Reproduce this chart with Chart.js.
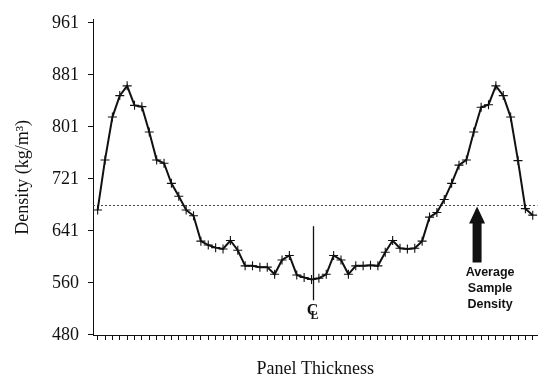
<!DOCTYPE html>
<html>
<head>
<meta charset="utf-8">
<script src="https://cdn.jsdelivr.net/npm/chart.js@4.4.1/dist/chart.umd.min.js"></script>
<style>
  html, body { margin: 0; padding: 0; background: #fff; }
  #wrap { width: 543px; height: 380px; }
</style>
</head>
<body>
<div id="wrap"><canvas id="profile" width="543" height="380"></canvas></div>
<script>
// vertical density profile, one reading per layer from face to face
const layers = [
  1, 2, 3, 4, 5, 6, 7, 8, 9, 10, 11, 12, 13, 14, 15, 16, 17, 18, 19, 20,
  21, 22, 23, 24, 25, 26, 27, 28, 29, 30, 31, 32, 33, 34, 35, 36, 37, 38, 39, 40,
  41, 42, 43, 44, 45, 46, 47, 48, 49, 50, 51, 52, 53, 54, 55, 56, 57, 58, 59, 60
];
const density = [
  673, 750, 816, 849, 864, 834, 832, 793, 750, 745,
  714, 694, 673, 664, 625, 619, 615, 613, 626, 611,
  587, 587, 585, 585, 574, 596, 603, 573, 569, 566,
  568, 574, 603, 596, 574, 587, 587, 588, 587, 608,
  626, 614, 613, 614, 625, 662, 669, 689, 714, 742,
  750, 793, 831, 835, 864, 849, 816, 749, 675, 665
];
// 30..60 lb/ft3 expressed in kg/m3
const yTickValues = [480.6, 560.6, 640.7, 720.8, 800.9, 881.0, 961.1];
const yTickLabels = ['480', '560', '641', '721', '801', '881', '961'];

const averageDensity = 680;
const centreLayer = 30.25;
const arrowLayer = 52.45;
const averageLabel = ['Average', 'Sample', 'Density'];

Chart.defaults.font.family = '"Liberation Serif", "Times New Roman", serif';
Chart.defaults.font.size = 18;
Chart.defaults.color = '#111';

// dotted average line goes under the profile
const averageLine = {
  id: 'averageLine',
  beforeDatasetsDraw(chart) {
    const { ctx, chartArea: a, scales: { y } } = chart;
    const ya = Math.round(y.getPixelForValue(averageDensity)) + 0.5;
    ctx.save();
    ctx.strokeStyle = '#444';
    ctx.lineWidth = 1;
    ctx.setLineDash([2, 2]);
    ctx.beginPath();
    ctx.moveTo(a.left, ya);
    ctx.lineTo(a.right, ya);
    ctx.stroke();
    ctx.restore();
  }
};

// centre line mark and the arrow with its caption
const notes = {
  id: 'notes',
  afterDatasetsDraw(chart) {
    const { ctx, scales: { x, y } } = chart;
    ctx.save();

    const xc = Math.round(x.getPixelForValue(centreLayer)) + 0.5;
    ctx.strokeStyle = '#111';
    ctx.lineWidth = 1.3;
    ctx.beginPath();
    ctx.moveTo(xc, y.getPixelForValue(648));
    ctx.lineTo(xc, y.getPixelForValue(534));
    ctx.stroke();
    ctx.fillStyle = '#111';
    ctx.textAlign = 'center';
    ctx.textBaseline = 'middle';
    ctx.font = 'bold 16px "Liberation Serif", serif';
    ctx.fillText('C', xc - 1, y.getPixelForValue(517));
    ctx.font = 'bold 12px "Liberation Serif", serif';
    ctx.fillText('L', xc + 1, y.getPixelForValue(510));

    const xa = x.getPixelForValue(arrowLayer);
    const tip = y.getPixelForValue(averageDensity) + 1;
    const base = y.getPixelForValue(592);
    ctx.beginPath();
    ctx.moveTo(xa, tip);
    ctx.lineTo(xa + 8, tip + 17);
    ctx.lineTo(xa + 4.5, tip + 17);
    ctx.lineTo(xa + 4.5, base);
    ctx.lineTo(xa - 4.5, base);
    ctx.lineTo(xa - 4.5, tip + 17);
    ctx.lineTo(xa - 8, tip + 17);
    ctx.closePath();
    ctx.fill();

    ctx.font = 'bold 12.5px "Liberation Sans", Arial, sans-serif';
    averageLabel.forEach((t, i) => ctx.fillText(t, xa + 13, base + 10 + i * 16));
    ctx.restore();
  }
};

new Chart(document.getElementById('profile'), {
  type: 'line',
  data: {
    datasets: [{
      data: layers.map((l, i) => ({ x: l, y: density[i] })),
      borderColor: '#111',
      borderWidth: 2,
      pointStyle: 'cross',
      pointRadius: 4.5,
      pointBorderWidth: 1.1,
      pointBorderColor: '#111',
      tension: 0
    }]
  },
  options: {
    responsive: false,
    animation: false,
    layout: { padding: { top: 19, right: 0, bottom: 0, left: 0 } },
    plugins: { legend: { display: false }, tooltip: { enabled: false } },
    scales: {
      x: {
        type: 'linear',
        min: 0.37,
        max: 60.63,
        afterBuildTicks: s => { s.ticks = layers.map(v => ({ value: v })); },
        afterFit: s => { s.height = 45; },
        ticks: { display: false },
        grid: { drawOnChartArea: false, color: '#111', tickLength: 5 },
        border: { color: '#111', width: 1 },
        title: { display: true, text: 'Panel Thickness', padding: { top: 4, bottom: 0 } }
      },
      y: {
        min: 480.55,
        max: 965.7,
        afterBuildTicks: s => { s.ticks = yTickValues.map(v => ({ value: v })); },
        afterFit: s => { s.width = 93; },
        ticks: {
          padding: 9,
          callback: (v, i) => yTickLabels[i]
        },
        grid: { drawOnChartArea: false, color: '#111', tickLength: 5 },
        border: { color: '#111', width: 1 },
        title: { display: true, text: 'Density (kg/m³)', padding: { top: 12, bottom: 0 } }
      }
    }
  },
  plugins: [averageLine, notes]
});
</script>
</body>
</html>
